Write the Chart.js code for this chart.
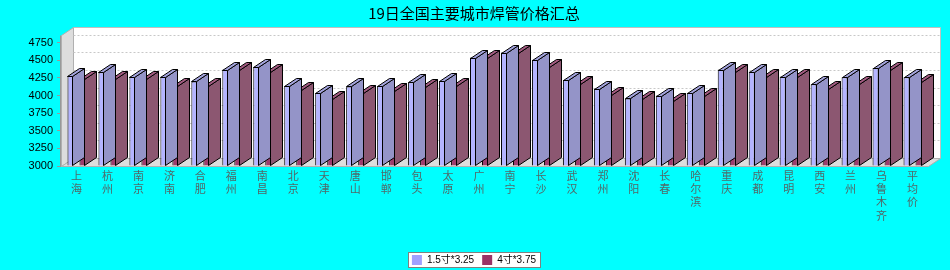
<!DOCTYPE html>
<html>
<head>
<meta charset="utf-8">
<title>19日全国主要城市焊管价格汇总</title>
<script src="https://cdn.jsdelivr.net/npm/chart.js@4.4.1/dist/chart.umd.min.js"></script>
<style>
    html, body { margin: 0; padding: 0; background: #00ffff; overflow: hidden; }
    #wrap { width: 950px; height: 270px; }
</style>
</head>
<body>
<div id="wrap"><canvas id="priceChart"></canvas></div>
<script>
// Chart data
const categories = ['上海', '杭州', '南京', '济南', '合肥', '福州', '南昌', '北京', '天津', '唐山',
    '邯郸', '包头', '太原', '广州', '南宁', '长沙', '武汉', '郑州', '沈阳', '长春',
    '哈尔滨', '重庆', '成都', '昆明', '西安', '兰州', '乌鲁木齐', '平均价'];
const seriesNames = ['1.5寸*3.25', '4寸*3.75'];
const pipe15 = [4280, 4330, 4270, 4270, 4200, 4370, 4410, 4140, 4040, 4130,
    4140, 4190, 4210, 4540, 4610, 4510, 4220, 4100, 3960, 4000,
    4040, 4370, 4340, 4270, 4160, 4260, 4390, 4260];
const pipe40 = [4230, 4240, 4230, 4130, 4140, 4370, 4330, 4080, 3950, 4040,
    4060, 4120, 4140, 4540, 4610, 4400, 4170, 4010, 3950, 3920,
    3990, 4330, 4270, 4270, 4100, 4170, 4360, 4190];
const yTicks = [3000, 3250, 3500, 3750, 4000, 4250, 4500, 4750];
const yMin = 3000;
const yMax = 4860;

document.addEventListener('DOMContentLoaded', function() {
    // 3D depth offset
    const DX = 12, DY = -8;
    const faces = [
        { front: '#b4b4ff', side: '#9494c8', top: '#a3a3dc', legend: '#a0a0ff' },
        { front: '#9c3d6d', side: '#8c5771', top: '#a25a80', legend: '#993366' }
    ];

    function poly(ctx, pts, fill, stroke) {
        ctx.beginPath();
        ctx.moveTo(pts[0][0], pts[0][1]);
        for (let i = 1; i < pts.length; i++) ctx.lineTo(pts[i][0], pts[i][1]);
        ctx.closePath();
        if (fill) { ctx.fillStyle = fill; ctx.fill(); }
        if (stroke) { ctx.strokeStyle = stroke; ctx.lineWidth = 1; ctx.stroke(); }
    }

    const threeD = {
        id: 'threeD',
        // centre title and legend on the whole page, not on the padded area
        afterLayout(chart) {
            const shift = 10;
            [chart.titleBlock, chart.legend].forEach(box => {
                if (!box) return;
                box.left += shift;
                box.right += shift;
            });
        },
        // page background and white box behind the legend
        beforeDraw(chart) {
            const ctx = chart.ctx;
            ctx.save();
            ctx.fillStyle = '#00ffff';
            ctx.fillRect(0, 0, chart.width, chart.height);
            const boxes = chart.legend && chart.legend.legendHitBoxes;
            if (boxes && boxes.length) {
                const left = Math.round(Math.min(...boxes.map(b => b.left)) - 4) + 0.5;
                const right = Math.round(Math.max(...boxes.map(b => b.left + b.width)) + 4) + 0.5;
                const top = Math.round(boxes[0].top - 3) + 0.5;
                const h = Math.round(boxes[0].height + 5);
                ctx.fillStyle = '#ffffff';
                ctx.fillRect(left, top, right - left, h);
                ctx.strokeStyle = '#808080';
                ctx.lineWidth = 1;
                ctx.strokeRect(left, top, right - left, h);
            }
            ctx.restore();
        },
        // walls, floor and grid
        beforeDatasetsDraw(chart) {
            const ctx = chart.ctx;
            const ca = chart.chartArea;
            const y = chart.scales.y;
            const L = Math.round(ca.left) + 0.5, R = Math.round(ca.right) + 0.5;
            const T = Math.round(ca.top) + 0.5, B = Math.round(ca.bottom) + 0.5;
            ctx.save();
            // back wall
            poly(ctx, [[L + DX, T + DY], [R + DX, T + DY], [R + DX, B + DY], [L + DX, B + DY]], '#ffffff', '#c0c0c0');
            // left wall
            poly(ctx, [[L, T], [L + DX, T + DY], [L + DX, B + DY], [L, B]], '#dddddd', '#b0b0b0');
            // floor
            poly(ctx, [[L, B], [L + DX, B + DY], [R + DX, B + DY], [R, B]], '#dddddd', '#b0b0b0');
            // dashed grid lines on the back wall
            ctx.setLineDash([2, 2]);
            ctx.strokeStyle = '#c8c8c8';
            yTicks.forEach(v => {
                if (v === yMin) return;
                const py = Math.round(y.getPixelForValue(v) + DY) + 0.5;
                ctx.beginPath();
                ctx.moveTo(L + DX, py);
                ctx.lineTo(R + DX, py);
                ctx.stroke();
            });
            ctx.setLineDash([]);
            // front value axis line
            ctx.strokeStyle = '#999999';
            ctx.beginPath();
            ctx.moveTo(L - 1, T);
            ctx.lineTo(L - 1, B);
            ctx.stroke();
            ctx.restore();
        },
        // side and top faces of each bar
        afterDatasetDraw(chart, args) {
            const ctx = chart.ctx;
            const f = faces[args.index];
            ctx.save();
            args.meta.data.forEach(bar => {
                const x0 = Math.round(bar.x - bar.width / 2) + 0.5;
                const x1 = Math.round(bar.x + bar.width / 2) - 0.5;
                const top = Math.round(bar.y) + 0.5;
                const base = Math.round(bar.base) - 0.5;
                poly(ctx, [[x1, top], [x1 + DX, top + DY], [x1 + DX, base + DY], [x1, base]], f.side, '#000000');
                poly(ctx, [[x0, top], [x0 + DX, top + DY], [x1 + DX, top + DY], [x1, top]], f.top, '#000000');
            });
            ctx.restore();
        }
    };

    const ctx = document.getElementById('priceChart').getContext('2d');
    new Chart(ctx, {
        type: 'bar',
        data: {
            // one character per line under each bar group
            labels: categories.map(c => c.split('')),
            datasets: [pipe15, pipe40].map((values, i) => ({
                label: seriesNames[i],
                data: values,
                base: yMin,
                backgroundColor: faces[i].front,
                borderColor: '#000000',
                borderWidth: 1,
                categoryPercentage: 0.775,
                barPercentage: 0.5
            }))
        },
        options: {
            responsive: true,
            maintainAspectRatio: false,
            animation: false,
            layout: { padding: { left: 0, right: 22, top: 0, bottom: -5 } },
            scales: {
                x: {
                    grid: { display: false, drawTicks: false },
                    border: { display: false },
                    ticks: {
                        color: '#506868',
                        padding: 3,
                        maxRotation: 0,
                        autoSkip: false,
                        font: { family: '"Noto Sans CJK SC", sans-serif', size: 11, lineHeight: 1.21 }
                    },
                    afterFit(scale) {
                        const legendH = scale.chart.legend ? scale.chart.legend.height : 0;
                        scale.height = scale.chart.height + 5 - 166 - legendH;
                    }
                },
                y: {
                    min: yMin,
                    max: yMax,
                    border: { display: false },
                    grid: { drawOnChartArea: false, drawTicks: true, tickLength: 4, color: '#999999' },
                    ticks: {
                        color: '#000000',
                        padding: 4,
                        font: { family: '"Liberation Sans", sans-serif', size: 11 },
                        callback: value => String(value)
                    },
                    afterBuildTicks(scale) {
                        scale.ticks = yTicks.map(v => ({ value: v }));
                    },
                    afterFit(scale) {
                        scale.width = 61;
                    }
                }
            },
            plugins: {
                title: {
                    display: true,
                    text: '19日全国主要城市焊管价格汇总',
                    color: '#000000',
                    padding: { top: 4, bottom: 13 },
                    font: { family: '"Noto Sans CJK SC", sans-serif', size: 15, weight: 'normal', lineHeight: 1.2 }
                },
                legend: {
                    position: 'bottom',
                    labels: {
                        boxWidth: 10,
                        boxHeight: 10,
                        padding: 8,
                        color: '#000000',
                        font: { family: '"Liberation Sans", "Noto Sans CJK SC", sans-serif', size: 10 },
                        generateLabels(chart) {
                            return Chart.defaults.plugins.legend.labels.generateLabels(chart).map((item, i) => {
                                item.fillStyle = faces[i].legend;
                                item.strokeStyle = faces[i].legend;
                                item.lineWidth = 0;
                                return item;
                            });
                        }
                    }
                },
                tooltip: { enabled: false }
            }
        },
        plugins: [threeD]
    });
});
</script>
</body>
</html>
